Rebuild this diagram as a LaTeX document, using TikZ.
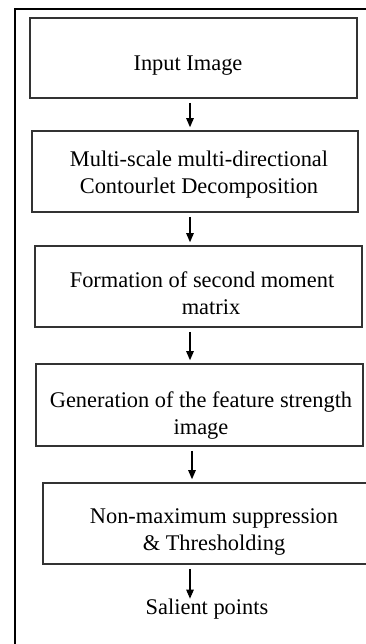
\documentclass[tikz,border=0pt]{standalone}
\usepackage{fontspec}
\setmainfont{Liberation Serif}
\usetikzlibrary{arrows.meta}
\begin{document}
\begin{tikzpicture}[x=1pt,y=-1pt,
  stepbox/.style={draw=black!80,line width=1.6pt,inner sep=0pt,rectangle},
  lbl/.style={font=\fontsize{22.4}{27}\selectfont,align=center,inner sep=0pt,text=black},
  arr/.style={line width=1.1pt,-{Triangle[length=9pt,width=7.5pt]},shorten <=4pt,shorten >=3pt}]
\useasboundingbox (0,0) rectangle (366,644);
\draw[line width=1.4pt] (366,9) -- (15,9) -- (15,644);
% boxes
\node[stepbox,minimum width=327pt,minimum height=80pt] (b1) at (193.5,58) {};
\node[stepbox,minimum width=326pt,minimum height=81pt] (b2) at (195,171.5) {};
\node[stepbox,minimum width=327pt,minimum height=81pt] (b3) at (198.5,286.5) {};
\node[stepbox,minimum width=327pt,minimum height=82pt] (b4) at (199.5,405) {};
\node[stepbox,minimum width=330pt,minimum height=81pt] (b5) at (208,523.5) {};
% texts
\node[lbl] (t1) at (188,65.5) {Input Image};
\node[lbl] (t2) at (199,175) {Multi-scale multi-directional\\Contourlet Decomposition};
\node[lbl] (t3) at (202,293.5) {Formation of second moment\\\hspace*{18pt}matrix};
\node[lbl] (t4) at (201,415.5) {Generation of the feature strength\\image};
\node[lbl] (t5) at (214,532) {Non-maximum suppression\\\&\ Thresholding};
\node[lbl] (t6) at (207,609) {Salient points};
% arrow columns
\coordinate (c1) at (190,0);
\coordinate (c4) at (192,0);
\draw[arr] (b1.south -| c1) -- (b2.north -| c1);
\draw[arr] (b2.south -| c1) -- (b3.north -| c1);
\draw[arr] (b3.south -| c1) -- (b4.north -| c1);
\draw[arr] (b4.south -| c4) -- (b5.north -| c4);
\draw[arr,shorten >=0pt] (b5.south -| c1) -- (t6.north -| c1);
\end{tikzpicture}
\end{document}
